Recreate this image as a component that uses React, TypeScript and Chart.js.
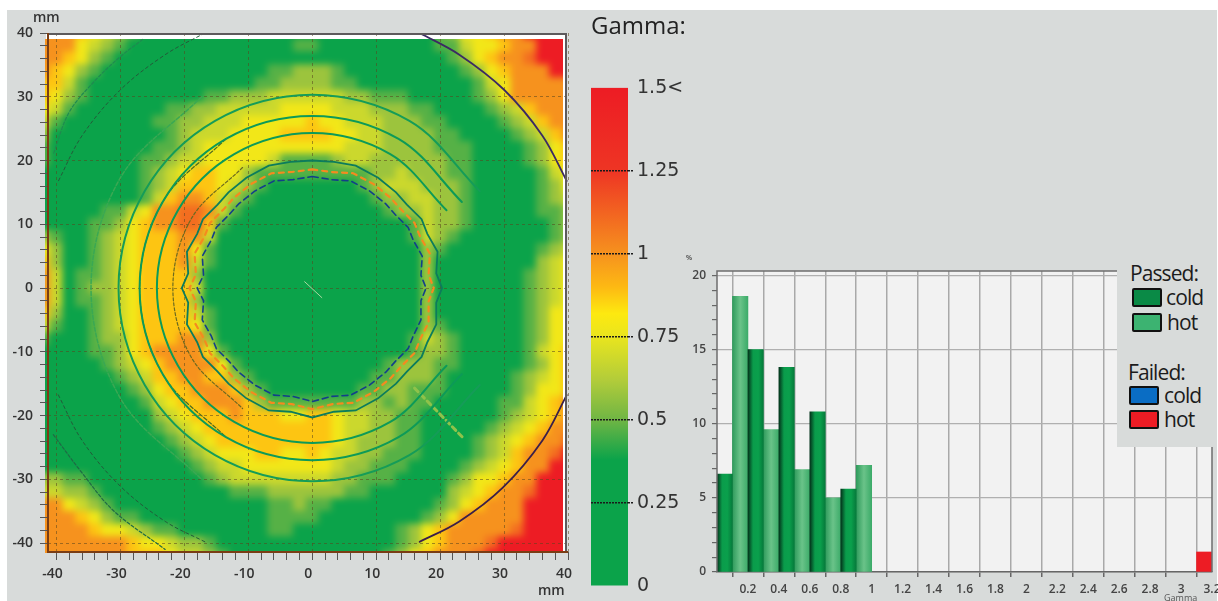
import React, { useEffect, useRef } from "react";
import { Chart, registerables } from "chart.js";

Chart.register(...registerables);

// ---------- heat map: gamma level per 2 mm cell ----------
// columns x = -42, -40 ... 40; rows y = 40, 38 ... -42
const gridX0 = -42;
const gridY0 = 40;
const gridStep = 2;
const gammaLevels = [0.2, 0.47, 0.58, 0.68, 0.78, 0.88, 1.0, 1.1, 1.3, 1.5];
const gammaRows = [
  "6665432 1000000 0000000 0000000 0001244 5669999",
  "6664321 0000000 0000001 1000000 0001134 4566999",
  "6654210 0000000 0000000 0000000 0000124 5667999",
  "6542100 0000000 0000112 2210000 0000012 4566699",
  "5531000 0000000 0001122 2211000 0000001 3466666",
  "5421000 0000001 1222333 3332211 1000001 2466666",
  "4310000 0001122 3333344 4433322 2110000 1235666",
  "3100000 0011223 3344444 5443332 2211000 0123566",
  "2000000 0001233 3444455 5544332 2221100 0012356",
  "1000000 0011234 4444444 4443332 2221110 0001245",
  "1000000 0112334 4444311 1123322 2222110 0001245",
  "0000000 0123455 4421111 1111122 3222110 0000134",
  "0000000 0123555 4321000 0000123 3322210 0000124",
  "0000000 0135665 3210000 0000012 2332210 0000123",
  "0000011 3466776 3100000 0000001 2232210 0000112",
  "0000112 4566775 1000000 0000000 0132210 0000012",
  "2100123 4555663 0000000 0000000 0132100 0000012",
  "4200123 4555641 0000000 0000000 0021000 0000123",
  "5200123 4555631 0000000 0000000 0020000 0000234",
  "6301123 4555520 0000000 0000000 0020000 0001234",
  "6301223 4555530 0000000 0000000 0020000 0001234",
  "6301123 4555520 0000000 0000000 0020000 0001234",
  "5200123 4555531 0000000 0000000 0020000 0001244",
  "3100123 4555541 0000000 0000000 0021000 0001244",
  "1000122 4555662 0000000 0000000 0132100 0001244",
  "0000112 4566664 1000000 0000000 0122100 0001345",
  "0000012 3456666 4100000 0000001 2221100 0001245",
  "0000001 2355665 5210000 0000011 2221000 0012345",
  "0000000 1245566 6521000 0000112 2111000 0012445",
  "0000000 0134556 6652111 1111221 2110000 0113456",
  "0000000 0023455 5655544 5543322 1100000 0123456",
  "0000000 0012345 5555555 5543322 1100000 1234566",
  "0000000 0001234 5555555 5543222 1100001 2345667",
  "0000000 0000123 4445544 5433221 1100001 2356679",
  "0000000 0000012 3344444 4432211 1000012 3456699",
  "2211000 0000001 2333333 3322111 0000124 4566999",
  "3322100 0000000 0111222 2221100 0000234 5667999",
  "6643210 0000000 0000112 1100000 0001245 6669999",
  "6665421 1000000 0000111 1000000 0012466 6669999",
  "6666544 3211000 0000110 0000000 1245666 6679999",
  "6666666 5443221 0000000 0000000 1245666 7999999",
  "6666666 5554332 1000000 0000001 2456667 9999999",
];

// ---------- colour scale ----------
const colorbarValues = [0, 0.38, 0.5, 0.62, 0.75, 0.82, 0.9, 1, 1.25, 1.5];
const colorbarColors = ["#0ba34a", "#0ba34a", "#6fb544", "#b2cc3a", "#e9e51e", "#fde910", "#fdb913", "#f6921e", "#ee3524", "#ed1c24"];
const colorbarLabels: Record<string, string> = { "0": "0", "0.25": "0.25", "0.5": "0.5", "0.75": "0.75", "1": "1", "1.25": "1.25", "1.5": "1.5<" };

// ---------- contour lines (x, y in mm) ----------
const ringA: number[][] = [[21, 12.2], [12.2, 21], [0, 24.3], [-12.2, 21], [-21, 12.2], [-24.3, 0], [-21, -12.2], [-12.2, -21], [0, -24.3], [12.2, -21], [21, -12.2]];
const ringB: number[][] = [[23.4, 13.5], [13.5, 23.4], [0, 27], [-13.5, 23.4], [-23.4, 13.5], [-27, 0], [-23.4, -13.5], [-13.5, -23.4], [0, -27], [13.5, -23.4], [23.4, -13.5]];
const ringBLeft: number[][] = [[-13.5, 23.4], [-23.4, 13.5], [-27, 0], [-23.4, -13.5], [-13.5, -23.4]];
const ringC: number[][] = [[26.2, 15.2], [15.2, 26.2], [0, 30.3], [-15.2, 26.2], [-26.2, 15.2], [-30.3, 0], [-26.2, -15.2], [-15.2, -26.2], [0, -30.3], [15.2, -26.2], [26.2, -15.2]];
const ringD: number[][] = [[-17.3, 30], [-30, 17.3], [-34.6, 0], [-30, -17.3], [-17.3, -30]];
const ringE: number[][] = [[-10.9, 18.9], [-18.9, 10.9], [-21.8, 0], [-18.9, -10.9], [-10.9, -18.9]];
const arcTopRight: number[][] = [[16.8, 40], [23, 36.6], [30, 31.1], [36, 23.9], [39.8, 16.8]];
const arcBottomRight: number[][] = [[16.8, -39.8], [23, -36.6], [29.8, -31.3], [36, -23.9], [39.8, -16.8]];
const arcTopLeft: number[][] = [[-16.8, 40], [-23, 36.6], [-30, 31.1], [-36, 23.9], [-39.8, 16.6]];
const arcBottomLeft: number[][] = [[-16.8, -39.8], [-23, -36.6], [-30, -31.1], [-36, -23.9], [-39.8, -16.6]];
const outerTopLeft: number[][] = [[-26.5, 39], [-30, 36.3], [-34, 32.5], [-38, 27.6], [-40.5, 21]];
const outerBottomLeft: number[][] = [[-40.5, -23], [-36, -29], [-31, -35], [-23, -41]];
const jagInner: number[][] = [[0, 17.5], [3, 17], [6, 16.8], [9, 15.2], [11.5, 13.2], [13, 11.5], [15, 9.5], [15.8, 7.5], [17.2, 5], [17, 2], [17.8, 0], [17, -2], [17, -5], [15.8, -7.5], [15, -9.5], [13, -11.5], [11.5, -13.2], [9, -15.2], [6, -16.8], [3, -17], [0, -17.8], [-3, -17], [-6, -16.8], [-9, -15.2], [-11.5, -13.2], [-13, -11.5], [-15, -9.5], [-15.8, -7.5], [-17.2, -5], [-17, -2], [-18, 0], [-17, 2], [-17.2, 5], [-15.8, 7.5], [-15, 9.5], [-13, 11.5], [-11.5, 13.2], [-9, 15.2], [-6, 16.8], [-3, 17], [0, 17.5]];
const jagMiddle: number[][] = [[0, 18.6], [3, 18.2], [6.4, 18], [9.6, 16.3], [12.3, 14.1], [13.9, 12.3], [16, 10.2], [16.9, 8], [18.4, 5.4], [18.2, 2.1], [19, 0], [18.2, -2.1], [18.2, -5.4], [16.9, -8], [16, -10.2], [13.9, -12.3], [12.3, -14.1], [9.6, -16.3], [6.4, -18], [3.2, -18.2], [0, -19], [-3.2, -18.2], [-6.4, -18], [-9.6, -16.3], [-12.3, -14.1], [-13.9, -12.3], [-16, -10.2], [-16.9, -8], [-18.4, -5.4], [-18.2, -2.1], [-19.2, 0], [-18.2, 2.1], [-18.4, 5.4], [-16.9, 8], [-16, 10.2], [-13.9, 12.3], [-12.3, 14.1], [-9.6, 16.3], [-6.4, 18], [-3.2, 18.2], [0, 18.6]];
const jagOuter: number[][] = [[0, 20], [3.4, 19.8], [6.8, 19.2], [10.3, 17.3], [13.1, 15], [14.8, 13.1], [17.1, 10.8], [18, 8.5], [19.6, 5.7], [19.4, 2.3], [20.3, 0], [19.4, -2.3], [19.4, -5.7], [18, -8.5], [17.1, -10.8], [14.8, -13.1], [13.1, -15], [10.3, -17.3], [6.8, -19.2], [3.4, -19.4], [0, -20.3], [-3.4, -19.4], [-6.8, -19.2], [-10.3, -17.3], [-13.1, -15], [-14.8, -13.1], [-17.1, -10.8], [-18, -8.5], [-19.6, -5.7], [-19.4, -2.3], [-20.4, 0], [-19.4, 2.3], [-19.6, 5.7], [-18, 8.5], [-17.1, 10.8], [-14.8, 13.1], [-13.1, 15], [-10.3, 17.3], [-6.8, 19.2], [-3.4, 19.8], [0, 20]];
const centreMark: number[][] = [[-1.2, 1], [1.5, -1.5]];
const streak: number[][] = [[16, -15.7], [23.6, -23.5]];

// ---------- histogram ----------
const coldBins = [0.05, 0.25, 0.45, 0.65, 0.85];
const coldPassed = [6.6, 15, 13.8, 10.8, 5.6];
const hotBins = [0.15, 0.35, 0.55, 0.75, 0.95];
const hotPassed = [18.6, 9.6, 6.9, 5, 7.2];
const failedHotBins = [3.15];
const failedHot = [1.35];
const failedColdBins: number[] = [];
const failedCold: number[] = [];

const toPoints = (p: number[][]) => p.map(([x, y]) => ({ x, y }));
const hex = (c: string) => [1, 3, 5].map((i) => parseInt(c.slice(i, i + 2), 16));
function gammaColor(v: number) {
  let i = 0;
  while (i < colorbarValues.length - 2 && v > colorbarValues[i + 1]) i++;
  const t = Math.min(1, Math.max(0, (v - colorbarValues[i]) / (colorbarValues[i + 1] - colorbarValues[i])));
  const a = hex(colorbarColors[i]);
  const b = hex(colorbarColors[i + 1]);
  return `rgb(${a.map((c, k) => Math.round(c + (b[k] - c) * t)).join(",")})`;
}

const heatCells: { x: number; y: number; g: number }[] = [];
gammaRows.forEach((row, j) => {
  row.replace(/ /g, "").split("").forEach((ch, i) => {
    heatCells.push({ x: gridX0 + i * gridStep, y: gridY0 - j * gridStep, g: gammaLevels[Number(ch)] });
  });
});

const textPlugin = {
  id: "cornerText",
  afterDraw(chart: any, _a: any, opts: any) {
    const { ctx } = chart;
    (opts.items || []).forEach((t: any) => {
      ctx.save();
      ctx.font = t.font;
      ctx.fillStyle = t.color;
      ctx.textBaseline = "middle";
      ctx.fillText(t.text, t.x, t.y);
      ctx.restore();
    });
  },
};

const labelFont = "'Open Sans', sans-serif";
const bandStyle = { showLine: true, pointRadius: 0, fill: false, borderCapStyle: "round" };

function line(label: string, pts: number[][], color: string, width: number, dash: number[] = [], tension = 0.35) {
  return { ...bandStyle, label, data: toPoints(pts), borderColor: color, borderWidth: width, borderDash: dash, tension };
}

export default function App() {
  const heatRef = useRef<HTMLCanvasElement>(null);
  const axesRef = useRef<HTMLCanvasElement>(null);
  const barRef = useRef<HTMLCanvasElement>(null);
  const histRef = useRef<HTMLCanvasElement>(null);

  useEffect(() => {
    const charts: Chart[] = [];

    // blurred gamma field
    charts.push(new Chart(heatRef.current!, {
      type: "scatter",
      data: {
        datasets: [{
          label: "Gamma",
          data: heatCells,
          backgroundColor: heatCells.map((c) => gammaColor(c.g)),
          pointStyle: "rect",
          pointBorderWidth: 0,
          pointRadius: (ctx: any) => {
            const s = ctx.chart.scales.x;
            return (s.getPixelForValue(gridStep) - s.getPixelForValue(0)) * Math.SQRT1_2 + 0.6;
          },
        }],
      } as any,
      options: {
        animation: false, responsive: false, events: [],
        layout: { padding: 0 },
        plugins: { legend: { display: false }, tooltip: { enabled: false } },
        scales: {
          x: { type: "linear", display: false, min: -44.92, max: 43.36 },
          y: { type: "linear", display: false, min: -45, max: 42.8 },
        },
      } as any,
    }));

    // axes, dashed grid and contour lines
    const tenMm = (v: number) => Math.round(v) % 10 === 0;
    const mmAxisCommon = {
      type: "linear",
      grid: {
        color: (c: any) => (c.tick && tenMm(c.tick.value) ? "rgba(90,70,30,0.55)" : "transparent"),
        tickColor: "#555",
        tickLength: 8,
        lineWidth: 1,
      },
      border: { dash: [3, 3], display: false },
    };
    const mmTicks = {
      stepSize: 2, includeBounds: false, autoSkip: false, maxRotation: 0, color: "#333",
      font: { family: labelFont, size: 14, weight: "600" },
      callback: (v: any) => (tenMm(v) ? String(Math.round(v)) : ""),
    };
    charts.push(new Chart(axesRef.current!, {
      type: "scatter",
      data: {
        datasets: [
          line("ring r24", ringA, "#0d9a58", 2),
          line("ring r27", ringB, "#0d9a58", 2),
          line("ring r27 left", ringBLeft, "#4c6a20", 1.2, [4, 2]),
          line("ring r30", ringC, "#159c58", 2),
          line("ring r34", ringD, "#3aa853", 1.5, [4, 2]),
          line("ring r22", ringE, "#6b6a20", 1.2, [3, 2]),
          line("arc top right", arcTopRight, "#3b2a63", 1.8),
          line("arc bottom right", arcBottomRight, "#3b1f4a", 1.8),
          line("arc top left", arcTopLeft, "#245a3a", 1, [3, 3]),
          line("arc bottom left", arcBottomLeft, "#245a3a", 1, [3, 3]),
          line("outer top left", outerTopLeft, "#1f8a50", 1.2, [3, 2]),
          line("outer bottom left", outerBottomLeft, "#1f6a45", 1.2, [3, 2]),
          line("edge outer", jagOuter, "#0c7c5c", 1.8, [], 0),
          line("edge middle", jagMiddle, "#f58a1f", 2.2, [5, 5], 0),
          line("edge inner", jagInner, "#123f8a", 1.6, [6, 4], 0),
          line("centre", centreMark, "#a8d8a0", 1, [], 0),
          line("streak", streak, "#8fc24a", 3, [5, 4], 0),
        ],
      } as any,
      plugins: [textPlugin, {
        id: "plotFrame",
        afterDraw(chart: any) {
          const { ctx, chartArea: a } = chart;
          ctx.save();
          ctx.strokeStyle = "#5d5a5c";
          ctx.lineWidth = 2;
          ctx.beginPath();
          ctx.moveTo(a.left, a.top + 1);
          ctx.lineTo(a.right - 2, a.top + 1);
          ctx.lineTo(a.right - 2, a.bottom);
          ctx.stroke();
          ctx.strokeStyle = "#7a3d14";
          ctx.lineWidth = 2;
          ctx.beginPath();
          ctx.moveTo(a.left, a.top);
          ctx.lineTo(a.left, a.bottom);
          ctx.lineTo(a.right, a.bottom);
          ctx.stroke();
          ctx.restore();
        },
      }] as any,
      options: {
        animation: false, responsive: false, events: [],
        layout: { padding: { top: 23, right: 14, left: 0, bottom: 0 } },
        plugins: {
          legend: { display: false }, tooltip: { enabled: false },
          cornerText: {
            items: [
              { text: "mm", x: 26, y: 8, font: `600 14px ${labelFont}`, color: "#333" },
              { text: "mm", x: 531, y: 581, font: `600 14px ${labelFont}`, color: "#333" },
            ],
          },
        },
        scales: {
          x: {
            ...mmAxisCommon, min: -41.33, max: 40,
            ticks: { ...mmTicks, labelOffset: -4, padding: 6 },
            afterFit: (s: any) => { s.height = 49; s.paddingLeft = 0; s.paddingRight = 0; },
          },
          y: {
            ...mmAxisCommon, min: -41.4, max: 40,
            ticks: { ...mmTicks, padding: 7 },
            afterFit: (s: any) => { s.width = 41; s.paddingTop = 0; s.paddingBottom = 0; },
          },
        },
      } as any,
    }));

    // colour bar
    charts.push(new Chart(barRef.current!, {
      type: "bar",
      data: {
        labels: ["Gamma"],
        datasets: [{
          label: "Gamma",
          data: [[0, 1.5]],
          borderWidth: 0,
          categoryPercentage: 1,
          barPercentage: 1,
          backgroundColor: (ctx: any) => {
            const a = ctx.chart.chartArea;
            if (!a) return colorbarColors[0];
            const g = ctx.chart.ctx.createLinearGradient(0, a.bottom, 0, a.top);
            colorbarValues.forEach((v, i) => g.addColorStop(v / 1.5, colorbarColors[i]));
            return g;
          },
        }],
      } as any,
      options: {
        animation: false, responsive: false, events: [],
        layout: { padding: { bottom: 15 } },
        plugins: {
          legend: { display: false }, tooltip: { enabled: false },
          title: {
            display: true, text: "Gamma:", align: "start", color: "#222",
            font: { family: labelFont, size: 24, weight: "400", lineHeight: 1.2 },
            padding: { top: 3, bottom: 46 },
          },
        },
        scales: {
          x: { display: false },
          y: {
            position: "right", min: 0, max: 1.5,
            grid: {
              z: 1, lineWidth: 1.5, tickLength: 6,
              color: (c: any) => (c.tick && c.tick.value > 0 && c.tick.value < 1.5 ? "#1a1a1a" : "transparent"),
              tickColor: (c: any) => (c.tick && c.tick.value > 0 && c.tick.value < 1.5 ? "#1a1a1a" : "transparent"),
              tickBorderDash: [2, 1],
            },
            border: { display: false, dash: [2, 1] },
            ticks: {
              stepSize: 0.25, padding: 3, color: "#333", autoSkip: false,
              font: { family: "'DejaVu Sans', sans-serif", size: 19 },
              callback: (v: any) => colorbarLabels[String(v)] ?? "",
            },
            afterFit: (s: any) => { s.width = 63; },
          },
        },
      } as any,
    }));

    // histogram
    const barGradient = (stops: string[]) => (ctx: any) => {
      if (!ctx.raw || !ctx.chart.chartArea) return stops[1];
      const s = ctx.chart.scales.x;
      const g = ctx.chart.ctx.createLinearGradient(s.getPixelForValue(ctx.raw.x - 0.05), 0, s.getPixelForValue(ctx.raw.x + 0.05), 0);
      stops.forEach((c, i) => g.addColorStop(i / (stops.length - 1), c));
      return g;
    };
    const histBar = (label: string, bins: number[], values: number[], color: any) => ({
      label,
      data: bins.map((x, i) => ({ x, y: values[i] })),
      backgroundColor: color,
      borderWidth: 0,
      barThickness: 15.45,
      grouped: false,
    });
    charts.push(new Chart(histRef.current!, {
      type: "bar",
      data: {
        datasets: [
          histBar("Passed cold", coldBins, coldPassed, barGradient(["#03331b", "#0a9c4b", "#0aa04c", "#067a3b"])),
          histBar("Passed hot", hotBins, hotPassed, barGradient(["#2f9b5c", "#6ac389", "#3cab69"])),
          histBar("Failed cold", failedColdBins, failedCold, "#0a6dc4"),
          histBar("Failed hot", failedHotBins, failedHot, "#ed1c24"),
        ],
      } as any,
      plugins: [textPlugin, {
        id: "plotBackground",
        beforeDraw(chart: any) {
          const { ctx, chartArea: a } = chart;
          ctx.save();
          ctx.fillStyle = "#f2f2f2";
          ctx.fillRect(a.left, a.top, a.width, a.height);
          ctx.restore();
        },
        afterDraw(chart: any) {
          const { ctx, chartArea: a } = chart;
          ctx.save();
          ctx.strokeStyle = "#6d6d6d";
          ctx.lineWidth = 1.5;
          ctx.beginPath();
          ctx.moveTo(a.left, a.bottom);
          ctx.lineTo(a.left, a.top);
          ctx.lineTo(a.right, a.top);
          ctx.moveTo(a.right, a.top);
          ctx.lineTo(a.right, a.bottom);
          ctx.stroke();
          ctx.restore();
        },
      }] as any,
      options: {
        animation: false, responsive: false, events: [],
        layout: { padding: { top: 21, right: 6, left: 0, bottom: 0 } },
        plugins: {
          legend: { display: false }, tooltip: { enabled: false },
          cornerText: {
            items: [
              { text: "%", x: 6, y: 8, font: `600 7px ${labelFont}`, color: "#444" },
              { text: "Gamma", x: 484, y: 348, font: `500 9px ${labelFont}`, color: "#555" },
            ],
          },
        },
        scales: {
          x: {
            type: "linear", min: 0, max: 3.2, offset: false,
            grid: { color: "#a9a9a9", lineWidth: 1.5, tickColor: "#666", tickLength: 5 },
            border: { color: "#666", width: 1.5 },
            ticks: {
              stepSize: 0.2, autoSkip: false, maxRotation: 0, padding: 5, color: "#444",
              font: { family: labelFont, size: 12, weight: "600" },
              callback: (v: any) => (v < 0.01 ? "" : String(Number(Number(v).toFixed(1)))),
            },
            afterFit: (s: any) => { s.height = 29; s.paddingLeft = 0; s.paddingRight = 0; },
          },
          y: {
            type: "linear", min: 0, max: 20.3,
            grid: {
              color: (c: any) => (c.tick && Math.round(c.tick.value) % 5 === 0 ? "#b0b0b0" : "transparent"),
              tickColor: "#666", tickLength: 5, lineWidth: 1.2,
            },
            border: { display: false },
            ticks: {
              stepSize: 1, includeBounds: false, autoSkip: false, padding: 6, color: "#444",
              font: { family: labelFont, size: 12, weight: "600" },
              callback: (v: any) => (Math.round(v) % 5 === 0 ? String(Math.round(v)) : ""),
            },
            afterFit: (s: any) => { s.width = 37; s.paddingTop = 0; s.paddingBottom = 0; },
          },
        },
      } as any,
    }));

    return () => charts.forEach((c) => c.destroy());
  }, []);

  const abs = (left: number, top: number, width: number, height: number): React.CSSProperties => ({
    position: "absolute", left, top, width, height,
  });
  const legendText: React.CSSProperties = {
    position: "absolute", fontFamily: "'Open Sans', sans-serif", fontSize: 21, lineHeight: "22px",
    color: "#1c1c1c", letterSpacing: -0.9, whiteSpace: "nowrap",
  };
  const swatch = (left: number, top: number, background: string): React.CSSProperties => ({
    position: "absolute", left, top, width: 26, height: 15, background,
    border: "2px solid #111", borderRadius: 2,
  });
  const soft = { filter: "blur(0.4px)" };

  return (
    <div style={{ position: "fixed", left: 0, top: 0, width: 1218, height: 601, background: "#ffffff", overflow: "hidden" }}>
      <div style={{ ...abs(7, 10, 1210, 591), background: "#d8dbda" }} />
      <div style={{ ...abs(46, 33, 520, 519), background: "#ffffff" }} />
      <div style={{ ...abs(45, 39, 518, 514), overflow: "hidden" }}>
        <canvas ref={heatRef} width={565} height={560} style={{ position: "absolute", left: -20, top: -24, filter: "blur(3.6px)" }} />
      </div>
      <canvas ref={axesRef} width={575} height={591} style={{ ...abs(7, 10, 575, 591), ...soft }} />
      <canvas ref={barRef} width={100} height={591} style={{ ...abs(591, 10, 100, 591), ...soft }} />
      <canvas ref={histRef} width={538} height={351} style={{ ...abs(680, 250, 538, 351), ...soft }} />
      <div style={{ ...abs(1117, 255, 100, 192), background: "#d8dbda" }} />
      <div style={{ ...legendText, left: 1130, top: 262 }}>Passed:</div>
      <div style={swatch(1132, 288, "#0a8a46")} />
      <div style={{ ...legendText, left: 1166, top: 286 }}>cold</div>
      <div style={swatch(1132, 313, "#3cb371")} />
      <div style={{ ...legendText, left: 1167, top: 311 }}>hot</div>
      <div style={{ ...legendText, left: 1128, top: 361 }}>Failed:</div>
      <div style={swatch(1129, 386, "#0a6dc4")} />
      <div style={{ ...legendText, left: 1164, top: 384 }}>cold</div>
      <div style={swatch(1129, 410, "#ed1c24")} />
      <div style={{ ...legendText, left: 1164, top: 408 }}>hot</div>
    </div>
  );
}
